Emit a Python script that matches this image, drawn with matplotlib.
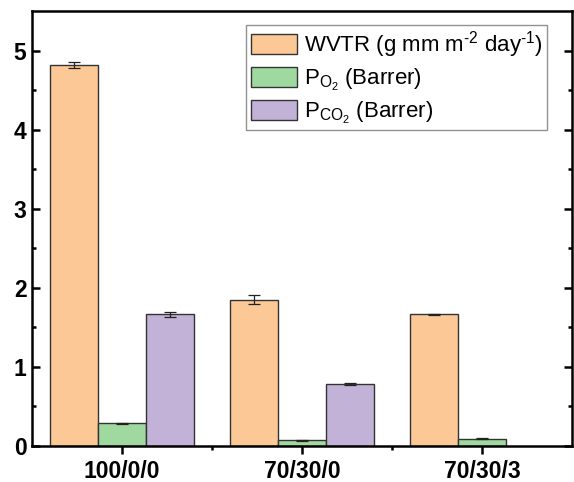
import matplotlib
matplotlib.use("Agg")
import matplotlib.pyplot as plt
import numpy as np

plt.rcParams['font.family'] = ['Liberation Sans', 'DejaVu Sans']
plt.rcParams['mathtext.fontset'] = 'custom'
plt.rcParams['mathtext.rm'] = 'Liberation Sans'
plt.rcParams['mathtext.it'] = 'Liberation Sans:italic'
plt.rcParams['mathtext.bf'] = 'Liberation Sans:bold'

categories = ["100/0/0", "70/30/0", "70/30/3"]
wvtr = [4.82, 1.85, 1.663]
wvtr_err = [0.04, 0.055, 0.012]
po2 = [0.287, 0.072, 0.092]
po2_err = [0.008, 0.006, 0.006]
pco2 = [1.667, 0.78, np.nan]
pco2_err = [0.03, 0.015, np.nan]

series = [
    (wvtr, wvtr_err, "#FCC896", r"WVTR (g mm m$^{\text{-2}}$ day$^{\text{-1}}$)"),
    (po2, po2_err, "#A0D9A0", r"P$_{\mathrm{O_2}}$ (Barrer)"),
    (pco2, pco2_err, "#C3B2D7", r"P$_{\mathrm{CO_2}}$ (Barrer)"),
]

fig = plt.figure(figsize=(5.74, 4.82), dpi=100)
ax = fig.add_axes([32/574, 1-446/482, (572-32)/574, (446-11)/482])

x = np.arange(1, len(categories)+1)
w = 0.8/3
for i, (vals, errs, col, lab) in enumerate(series):
    ax.bar(x + (i-1)*w, vals, width=w, color=col, edgecolor='#333333', linewidth=1.0,
           label=lab, yerr=errs, capsize=4,
           error_kw=dict(elinewidth=0.9, capthick=0.9, ecolor='#222222'))

ax.set_xlim(0.5, 3.5)
ax.set_ylim(0, 5.5)
ax.set_xticks(x)
ax.set_xticklabels(categories, fontsize=16.5, fontweight='bold')
ax.set_xticks([1.5, 2.5], minor=True)
ax.set_yticks([0, 1, 2, 3, 4, 5])
ax.set_yticks([0.5, 1.5, 2.5, 3.5, 4.5], minor=True)
for lbl in ax.get_yticklabels():
    lbl.set_fontweight('bold')
    lbl.set_fontsize(16.5)

for s in ax.spines.values():
    s.set_linewidth(1.8)
ax.tick_params(axis='y', which='major', direction='in', length=6, width=1.8, right=True, pad=4)
ax.tick_params(axis='y', which='minor', direction='in', length=3, width=1.8, right=True)
ax.tick_params(axis='x', which='major', direction='out', length=6, width=1.8, pad=4)
ax.tick_params(axis='x', which='minor', direction='out', length=3, width=1.8)

leg = ax.legend(loc='upper right', bbox_to_anchor=(0.954, 0.968), borderaxespad=0,
                fontsize=16, frameon=True, fancybox=False, edgecolor='#777777',
                handlelength=2.1, handleheight=1.0, handletextpad=0.3,
                borderpad=0.2, labelspacing=0.3)
leg.get_frame().set_linewidth(1.0)

fig.savefig("out.png", dpi=100)
